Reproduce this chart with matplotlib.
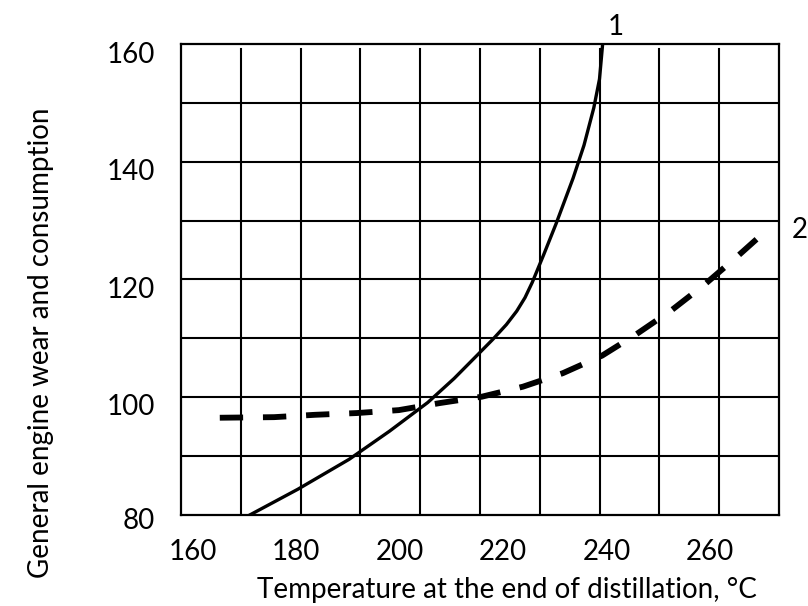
"""
Engine wear vs. end-of-distillation temperature (curves 1 and 2)
"""
import numpy as np
import matplotlib
matplotlib.use("Agg")
import matplotlib.pyplot as plt

# data
temp_1 = [171.0, 180.3, 190.2, 198.0, 205.4, 210.5, 215.1, 218.0, 220.6,
          222.6, 224.2, 225.6, 227.8, 230.2, 233.5, 235.6, 237.5, 238.6, 239.2]
wear_1 = [81.1, 85.5, 90.6, 95.4, 100.3, 104.4, 108.5, 111.1, 113.6,
          115.9, 118.2, 120.8, 125.5, 130.8, 138.6, 144.2, 150.6, 155.5, 161.4]

temp_2 = [165.2, 175.7, 183.6, 191.7, 199.8, 207.7, 215.9, 223.8, 231.5,
          239.1, 245.8, 252.6, 259.0, 265.2, 271.4]
wear_2 = [97.7, 97.8, 98.2, 98.5, 99.0, 100.2, 101.3, 103.0, 105.3,
          108.3, 112.0, 116.1, 120.5, 125.2, 130.1]

x_ticks = [160, 180, 200, 220, 240, 260]
y_ticks = [100, 120, 140, 160]
curve_labels = ["1", "2"]

x_label = "Temperature at the end of distillation, °C"
y_label = "General engine wear and consumption"

# axis ranges (the grid is drawn evenly over them)
x_lim = (157.7, 273.3)
y_lim = (81.1, 161.5)

plt.rcParams["font.family"] = ["Lato", "DejaVu Sans"]
fs = 20

fig = plt.figure(figsize=(8.08, 6.06), dpi=100)
ax = fig.add_axes([0.224, 0.1502, 0.7401, 0.7772])
ax.set_xlim(*x_lim)
ax.set_ylim(*y_lim)

# grid: 10 columns, 8 rows
for gx in np.linspace(x_lim[0], x_lim[1], 11)[1:-1]:
    ax.axvline(gx, ymax=0.99, color="black", lw=1.5, zorder=1)
for gy in np.linspace(y_lim[0], y_lim[1], 9)[1:-1]:
    ax.axhline(gy, color="black", lw=1.5, zorder=1)

for s in ax.spines.values():
    s.set_linewidth(1.6)

# curves
ax.plot(temp_1, wear_1, color="black", lw=2.4, zorder=3)
ax.plot(temp_2, wear_2, color="black", lw=4.2, dashes=(4.0, 3.4),
        dash_capstyle="butt", zorder=3)

# curve numbers
ax.text(temp_1[-1] + 2.6, 164.4, curve_labels[0], fontsize=fs,
        ha="center", va="center", clip_on=False)
ax.text(277.3, wear_2[-1] - 0.3, curve_labels[1], fontsize=fs,
        ha="center", va="center", clip_on=False)

# ticks
ax.set_xticks(x_ticks)
ax.set_yticks(y_ticks)
ax.tick_params(length=0, labelsize=fs)
ax.tick_params(axis="x", pad=17)
ax.tick_params(axis="y", pad=19)
# the 80 label sits just under the frame
ax.text(-0.0435, 80, "80", fontsize=fs, ha="right", va="center",
        transform=ax.get_yaxis_transform(), clip_on=False)

fig.text(507 / 808, 0.0132, x_label, fontsize=fs, ha="center", va="baseline")
fig.text(41 / 808, 1 - 108 / 606, y_label, fontsize=fs, rotation=90,
         ha="center", va="top")

fig.savefig("out.png", dpi=100)
